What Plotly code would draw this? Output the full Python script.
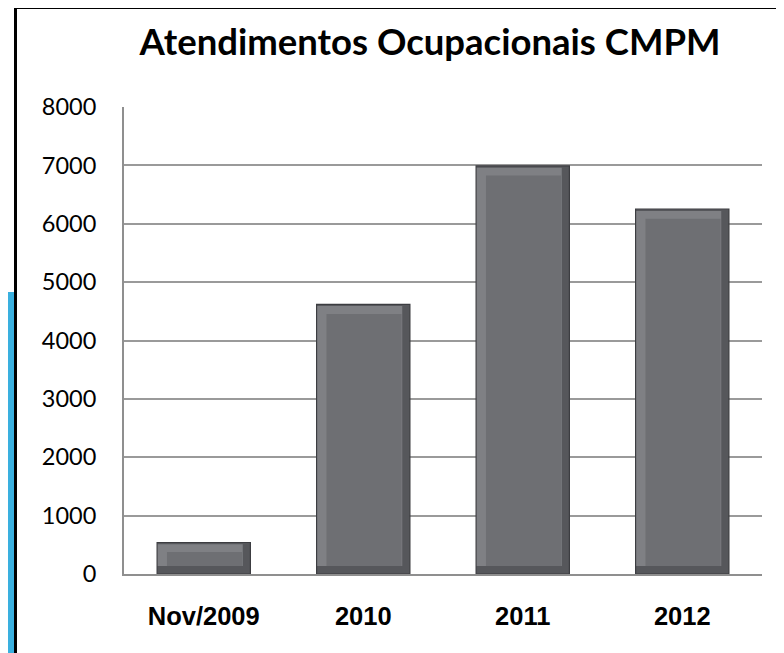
import plotly.graph_objects as go

categories = ["Nov/2009", "2010", "2011", "2012"]
values = [540, 4620, 6990, 6250]
y_ticks = [0, 1000, 2000, 3000, 4000, 5000, 6000, 7000, 8000]
title_text = "Atendimentos Ocupacionais CMPM"

W, H = 784, 653
OFF = 8  # default page body margin
L, R, T, B = 124 - OFF, 30, 107 - OFF, 87
pw, ph = W - L - R, H - T - B

def px_x(p):
    return (p - OFF - L) / pw

def px_y(p):
    return (H - B - (p - OFF)) / ph

bw = 0.585          # bar width (category units)
side_l = 0.062      # left bevel
side_r = 0.052      # right bevel
bev_t = 165         # top bevel (data units)
bev_b = 135         # bottom bevel (data units)
n = len(values)

fig = go.Figure()
# dark outer body (right / bottom bevels)
fig.add_trace(go.Bar(
    x=categories, y=values, width=bw, offset=-bw / 2,
    marker=dict(color="#56575b", line=dict(color="#3c3d41", width=1.2)),
    hoverinfo="skip", showlegend=False,
))
# light left / top bevel
fig.add_trace(go.Bar(
    x=categories, y=[v - bev_b - 30 for v in values], base=[bev_b] * n,
    width=bw - side_r, offset=-bw / 2 + 0.004,
    marker=dict(color="#7f8084", line=dict(width=0)),
    hoverinfo="skip", showlegend=False,
))
# face
fig.add_trace(go.Bar(
    x=categories, y=[max(v - bev_t - bev_b, 0) for v in values], base=[bev_b] * n,
    width=bw - side_l - side_r, offset=-bw / 2 + side_l,
    marker=dict(color="#6e6f73", line=dict(width=0)),
    hoverinfo="skip", showlegend=False,
))

fig.update_layout(
    width=W, height=H,
    margin=dict(l=L, r=R, t=T, b=B),
    paper_bgcolor="white", plot_bgcolor="white",
    barmode="overlay",
    title=dict(text="<b>" + title_text + "</b>", x=(430 - OFF) / W, xanchor="center",
               y=1 - (42 - OFF) / H, yanchor="middle", yref="container",
               font=dict(family="Lato", size=36.5, color="black")),
    font=dict(family="Lato", color="black"),
    xaxis=dict(showline=True, linecolor="#8f8f8f", linewidth=2, ticks="",
               tickfont=dict(family="Liberation Sans", size=25.5, color="black", weight="bold"),
               ticklabelstandoff=18, fixedrange=True),
    yaxis=dict(range=[0, 8000], tickvals=y_ticks, ticktext=[str(v) for v in y_ticks],
               showgrid=True, gridcolor="#9a9a9a", gridwidth=1.5,
               showline=True, linecolor="#8f8f8f", linewidth=2, ticks="",
               zeroline=False,
               tickfont=dict(family="Lato", size=23.5, color="black"),
               ticklabelstandoff=21, fixedrange=True),
    shapes=[
        dict(type="rect", xref="paper", yref="paper",
             x0=px_x(0), x1=px_x(14), y0=px_y(292), y1=px_y(H + 20),
             fillcolor="#3ab0df", line=dict(width=0), layer="below"),
        dict(type="line", xref="paper", yref="paper",
             x0=px_x(15.5), x1=px_x(15.5), y0=px_y(7), y1=px_y(H + 20),
             line=dict(color="black", width=3)),
        dict(type="line", xref="paper", yref="paper",
             x0=px_x(14), x1=px_x(W + 20), y0=px_y(7.5), y1=px_y(7.5),
             line=dict(color="black", width=3)),
    ],
)

fig.write_html("out.html")
